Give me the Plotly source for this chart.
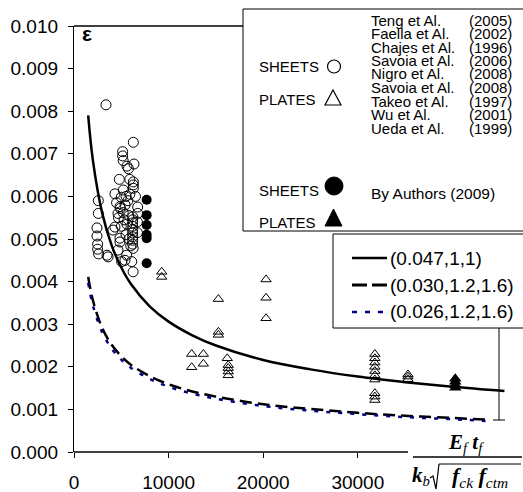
import plotly.graph_objects as go

# ---- data -------------------------------------------------------------
# literature results, FRP sheets (open circles)
sheets_lit_x = [3380, 6270, 5140, 5140, 5200, 5600, 5750, 6340, 6270, 6270, 6270, 4790,
                4330, 5210, 5000, 5500, 5900, 4900, 4650, 5200, 6730, 6730, 6200, 6200,
                6200, 6200, 6200, 6200, 6200, 6200, 6200, 6250, 2570, 2570, 2430, 2430,
                2500, 2500, 4330, 4860, 4860, 3490, 5570, 3600, 4120, 4650, 5040, 5390,
                6100, 6250, 6000, 4860, 5400, 5700, 5300, 5600, 5800, 5000, 4700, 5500,
                5800, 6700, 6700, 2600, 5900, 6500, 4500]
sheets_lit_y = [0.00815, 0.00727, 0.00705, 0.00695, 0.00684, 0.00671, 0.00665, 0.00676,
                0.00634, 0.00627, 0.00619, 0.00640, 0.00606, 0.00615, 0.00598, 0.00600,
                0.00605, 0.00572, 0.00560, 0.00562, 0.00575, 0.00560, 0.00552, 0.00545,
                0.00538, 0.00530, 0.00522, 0.00514, 0.00505, 0.00497, 0.00488, 0.00478,
                0.00590, 0.00560, 0.00526, 0.00507, 0.00488, 0.00476, 0.00528, 0.00502,
                0.00493, 0.00462, 0.00462, 0.00458, 0.00521, 0.00474, 0.00447, 0.00450,
                0.00447, 0.00423, 0.00484, 0.00576, 0.00580, 0.00590, 0.00545, 0.00535,
                0.00555, 0.00530, 0.00550, 0.00510, 0.00500, 0.00540, 0.00515, 0.00465,
                0.00640, 0.00600, 0.00585]

# literature results, FRP plates (open triangles)
plates_lit_x = [9270, 9270, 20300, 20300, 20300, 15260, 15260, 15260, 12440, 13670,
                12440, 13670, 16200, 16300, 16300, 16300, 16300, 31800, 31800, 31800,
                31800, 31800, 31800, 31800, 31800, 31800, 31800, 35300, 35300, 35300]
plates_lit_y = [0.00423, 0.00411, 0.00405, 0.00362, 0.00314, 0.00359, 0.00282, 0.00275,
                0.00230, 0.00230, 0.00199, 0.00207, 0.00220, 0.00204, 0.00197, 0.00189,
                0.00180, 0.00230, 0.00220, 0.00210, 0.00200, 0.00190, 0.00180, 0.00170,
                0.00138, 0.00130, 0.00122, 0.00182, 0.00177, 0.00171]

# own tests (2009)
sheets_own_x = [7680, 7680, 7680, 7680, 7680, 7680]
sheets_own_y = [0.00592, 0.00556, 0.00533, 0.00510, 0.00502, 0.00443]
plates_own_x = [40300, 40300, 40300, 40300]
plates_own_y = [0.00172, 0.00165, 0.00158, 0.00151]

# model curves
curve_x = [1500, 2000, 3000, 4000, 5000, 6000, 8000, 10000, 12500, 15000,
           20000, 25000, 30000, 35000, 40000, 45500]
curve_a_y = [0.00790, 0.00684, 0.00559, 0.00484, 0.00433, 0.00395, 0.00342, 0.00306,
             0.00274, 0.00250, 0.00216, 0.00194, 0.00177, 0.00164, 0.00153, 0.00143]
curve_bc_x = [1500, 2000, 3000, 4000, 5000, 6000, 8000, 10000, 12500, 15000,
              20000, 25000, 30000, 35000, 40000, 43500]
curve_b_y = [0.00411, 0.00356, 0.00290, 0.00251, 0.00225, 0.00205, 0.00178, 0.00159,
             0.00142, 0.00130, 0.00112, 0.00101, 0.00092, 0.00085, 0.00080, 0.00076]
curve_c_y = [0.00397, 0.00344, 0.00280, 0.00242, 0.00217, 0.00198, 0.00172, 0.00153,
             0.00137, 0.00125, 0.00108, 0.00097, 0.00089, 0.00082, 0.00077, 0.00073]

curve_labels = ["(0.047,1,1)", "(0.030,1.2,1.6)", "(0.026,1.2,1.6)"]
sources = ["Teng et Al.", "Faella et Al.", "Chajes et Al.", "Savoia et Al.", "Nigro et Al.",
           "Savoia et Al.", "Takeo et Al.", "Wu et Al.", "Ueda et Al."]
source_years = ["(2005)", "(2002)", "(1996)", "(2006)", "(2008)", "(2008)", "(1997)",
                "(2001)", "(1999)"]

x_ticks = [0, 10000, 20000, 30000]
y_ticks = [i / 1000 for i in range(11)]

# ---- layout helpers ---------------------------------------------------
W, H = 523, 492
L, R, T, B = 74, 0, 26, 40
PW, PH = W - L - R, H - T - B
X_MAX = 47460


def px(x):
    return (x - L) / PW


def py(y):
    return (H - B - y) / PH


SANS = "Arial, Liberation Sans, sans-serif"
SERIF = "Times New Roman, Liberation Serif, serif"
NAVY = "#000080"

fig = go.Figure()

fig.add_trace(go.Scatter(x=curve_bc_x, y=curve_b_y, mode="lines", line_shape="spline",
                         line=dict(color="black", width=2.5, dash="12px,6px")))
fig.add_trace(go.Scatter(x=curve_bc_x, y=curve_c_y, mode="lines", line_shape="spline",
                         line=dict(color=NAVY, width=2.5, dash="4px,8px")))
fig.add_trace(go.Scatter(x=curve_x, y=curve_a_y, mode="lines", line_shape="spline",
                         line=dict(color="black", width=2.5)))

fig.add_trace(go.Scatter(x=sheets_lit_x, y=sheets_lit_y, mode="markers",
                         marker=dict(symbol="circle-open", size=10, color="black",
                                     line=dict(width=1, color="black"))))
fig.add_trace(go.Scatter(x=plates_lit_x, y=plates_lit_y, mode="markers",
                         marker=dict(symbol="triangle-up-open", size=9, color="black",
                                     line=dict(width=1, color="black"))))
fig.add_trace(go.Scatter(x=sheets_own_x, y=sheets_own_y, mode="markers",
                         marker=dict(symbol="circle", size=10, color="black")))
fig.add_trace(go.Scatter(x=plates_own_x, y=plates_own_y, mode="markers",
                         marker=dict(symbol="triangle-up", size=11, color="black")))

shapes = []
# top frame line and shortened x axis line
shapes.append(dict(type="line", xref="paper", yref="paper", x0=0, x1=px(243), y0=1, y1=1,
                   line=dict(color="black", width=1.3)))
shapes.append(dict(type="line", xref="paper", yref="paper", x0=0, x1=px(408), y0=0, y1=0,
                   line=dict(color="black", width=1.3)))
# right drop line with end tick
shapes.append(dict(type="line", xref="paper", yref="paper", x0=px(499), x1=px(499),
                   y0=py(420), y1=py(328), line=dict(color="black", width=1)))
shapes.append(dict(type="line", xref="paper", yref="paper", x0=px(493), x1=px(505),
                   y0=py(420), y1=py(420), line=dict(color="black", width=1)))
# legend boxes
shapes.append(dict(type="rect", xref="paper", yref="paper", x0=px(243), x1=px(540),
                   y0=py(231), y1=py(9), fillcolor="white", line=dict(color="black", width=1)))
shapes.append(dict(type="rect", xref="paper", yref="paper", x0=px(333), x1=px(540),
                   y0=py(328), y1=py(234), fillcolor="white", line=dict(color="black", width=1)))
# legend symbols
shapes.append(dict(type="circle", xref="paper", yref="paper", x0=px(327.5), x1=px(340.5),
                   y0=py(73), y1=py(60), line=dict(color="black", width=1.2)))
shapes.append(dict(type="path", xref="paper", yref="paper",
                   path="M %f,%f L %f,%f L %f,%f Z" % (px(325), py(105), px(341), py(105),
                                                        px(333), py(90)),
                   line=dict(color="black", width=1.2)))
shapes.append(dict(type="circle", xref="paper", yref="paper", x0=px(325), x1=px(343),
                   y0=py(195), y1=py(177), fillcolor="black", line=dict(color="black", width=1)))
shapes.append(dict(type="path", xref="paper", yref="paper",
                   path="M %f,%f L %f,%f L %f,%f Z" % (px(325), py(226), px(342), py(226),
                                                        px(333.5), py(209)),
                   fillcolor="black", line=dict(color="black", width=1)))
# curve legend samples
shapes.append(dict(type="line", xref="paper", yref="paper", x0=px(352), x1=px(387),
                   y0=py(258), y1=py(258), line=dict(color="black", width=2.5)))
shapes.append(dict(type="line", xref="paper", yref="paper", x0=px(352), x1=px(387),
                   y0=py(285), y1=py(285), line=dict(color="black", width=3, dash="15px,5px")))
shapes.append(dict(type="line", xref="paper", yref="paper", x0=px(352), x1=px(387),
                   y0=py(312), y1=py(312), line=dict(color=NAVY, width=2.5, dash="5px,8px")))
# fraction bar and radical overline of the x-axis title
shapes.append(dict(type="line", xref="paper", yref="paper", x0=px(413), x1=px(522),
                   y0=py(457), y1=py(457), line=dict(color="black", width=1.3)))
shapes.append(dict(type="line", xref="paper", yref="paper", x0=px(439), x1=px(521),
                   y0=py(464), y1=py(464), line=dict(color="black", width=1)))
shapes.append(dict(type="path", xref="paper", yref="paper",
                   path="M %f,%f L %f,%f L %f,%f L %f,%f" % (px(430), py(478), px(433), py(476),
                                                           px(436), py(489), px(439), py(464)),
                   line=dict(color="black", width=1.2)))

ann = []
ann.append(dict(text="<b>ε</b>", x=px(87), y=py(33), font=dict(family=SANS, size=21)))
ann.append(dict(text="SHEETS", x=px(257), y=py(67), xanchor="left",
                font=dict(family=SANS, size=15)))
ann.append(dict(text="PLATES", x=px(257), y=py(99), xanchor="left",
                font=dict(family=SANS, size=15)))
ann.append(dict(text="SHEETS", x=px(257), y=py(190), xanchor="left",
                font=dict(family=SANS, size=15)))
ann.append(dict(text="PLATES", x=px(257), y=py(222), xanchor="left",
                font=dict(family=SANS, size=15)))
for i, (name, year) in enumerate(zip(sources, source_years)):
    yy = py(20 + 13.5 * i)
    ann.append(dict(text=name, x=px(369), y=yy, xanchor="left",
                    font=dict(family=SANS, size=15)))
    ann.append(dict(text=year, x=px(514), y=yy, xanchor="right",
                    font=dict(family=SANS, size=15)))
ann.append(dict(text="By Authors (2009)", x=px(369), y=py(193), xanchor="left",
                font=dict(family=SANS, size=15.5)))
for i, lab in enumerate(curve_labels):
    ann.append(dict(text=lab, x=px(388), y=py(258 + 27 * i), xanchor="left",
                    font=dict(family=SANS, size=19)))
# x-axis title as a fraction
ann.append(dict(text="<b><i>E</i></b><sub><i>f</i></sub> <b><i>t</i></b><sub><i>f</i></sub>",
                x=px(466), y=py(443), font=dict(family=SERIF, size=21)))
ann.append(dict(text="<b><i>k</i></b><sub><i>b</i></sub>", x=px(421), y=py(476),
                font=dict(family=SERIF, size=21)))
ann.append(dict(text="<b><i>f</i></b><sub><i>ck</i></sub> <b><i>f</i></b><sub><i>ctm</i></sub>",
                x=px(480), y=py(477), font=dict(family=SERIF, size=22)))
for a in ann:
    a.update(xref="paper", yref="paper", showarrow=False)
    a.setdefault("xanchor", "center")
    a.setdefault("yanchor", "middle")
    a["font"].setdefault("color", "black")

fig.update_layout(
    width=W, height=H,
    margin=dict(l=L, r=R, t=T, b=B, pad=0),
    paper_bgcolor="white", plot_bgcolor="white",
    showlegend=False,
    shapes=shapes,
    annotations=ann,
    xaxis=dict(range=[0, X_MAX], tickvals=x_ticks, ticktext=[str(v) for v in x_ticks],
               ticks="outside", ticklen=5, tickcolor="black", tickwidth=1,
               showline=False, showgrid=False, zeroline=False,
               tickfont=dict(family=SANS, size=19, color="black"), ticklabelstandoff=8),
    yaxis=dict(range=[0, 0.010], tickvals=y_ticks, tickformat=".3f",
               ticks="outside", ticklen=5, tickcolor="black", tickwidth=1,
               showline=True, linecolor="black", linewidth=1.3,
               showgrid=False, zeroline=False, ticklabelstandoff=6,
               tickfont=dict(family=SANS, size=19, color="black")),
)

fig.write_html("out.html")
